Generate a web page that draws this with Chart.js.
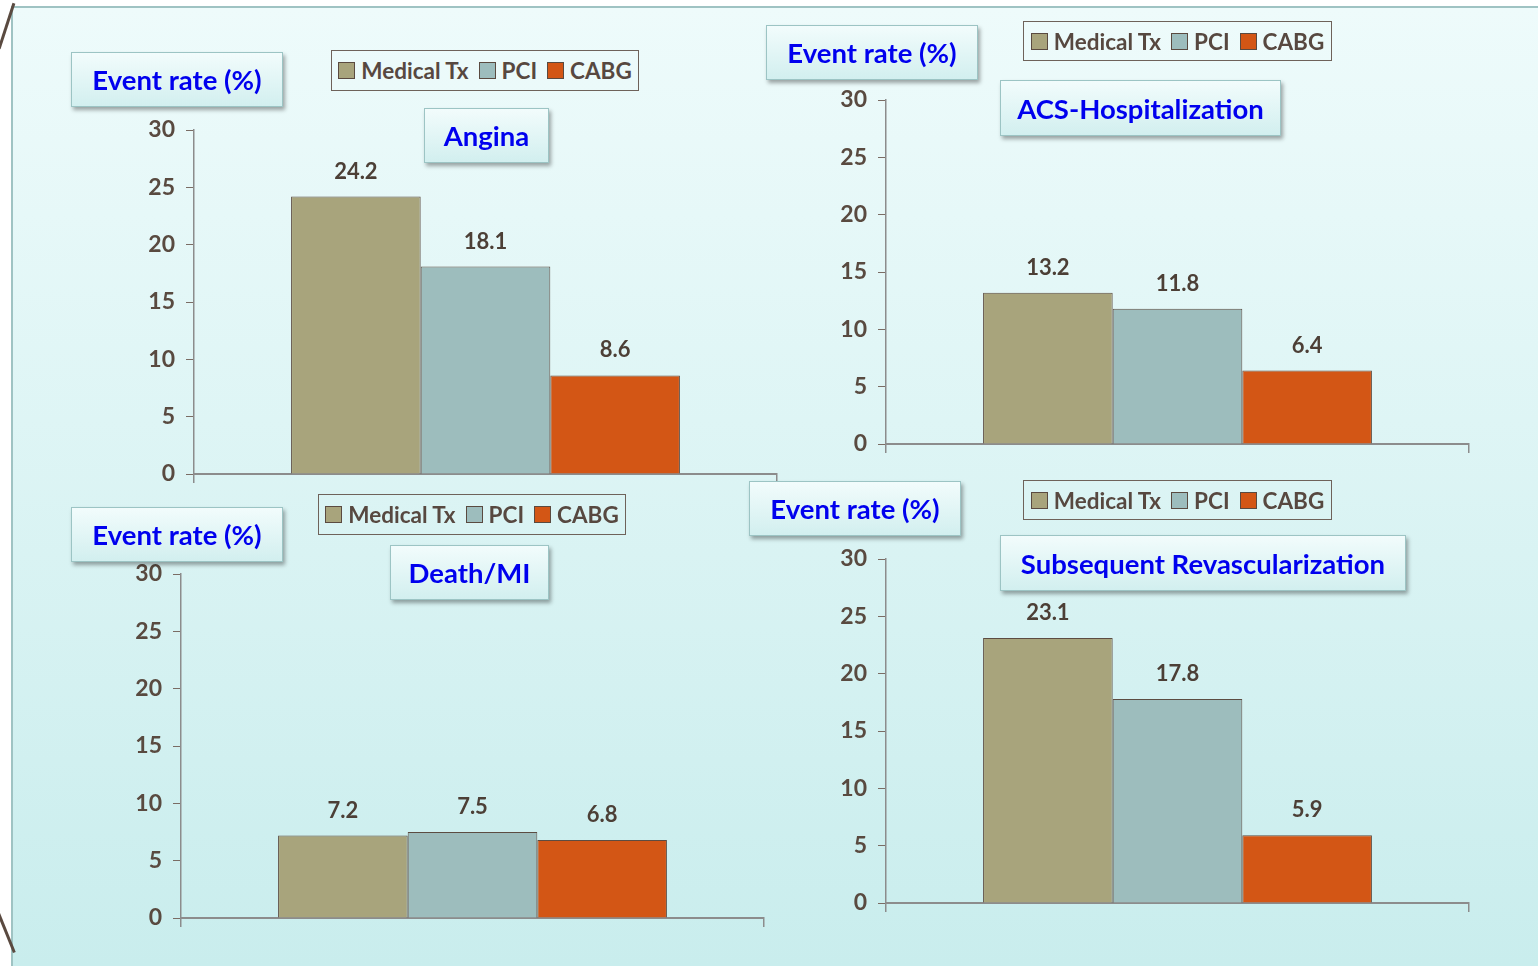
<!DOCTYPE html>
<html lang="en">
<head>
  <meta charset="UTF-8">
  <title>Event rates</title>
  <style>
    html, body { margin: 0; padding: 0; background: #ffffff; }
    body { width: 1538px; height: 966px; position: relative; overflow: hidden; font-family: 'Lato', sans-serif; }

    #panel {
      position: absolute; left: 11px; top: 6px; width: 1540px; height: 958px;
      border: 2px solid #9fc3c3;
      background: linear-gradient(#eefbfb, #c9eded);
    }
    .slash { position: absolute; width: 3px; background: #5a4a40; }

    .chart-wrap { position: absolute; }

    .box {
      position: absolute; box-sizing: border-box;
      border: 1.5px solid #9cc4c4;
      background: linear-gradient(#f2fcfc, #d2efef);
      box-shadow: 2px 3px 4px rgba(0, 0, 0, 0.35);
      color: #0000ee; font-weight: 700; font-size: 27.5px;
      display: flex; align-items: center; justify-content: center;
      white-space: nowrap;
    }

    .legend {
      position: absolute; box-sizing: border-box;
      border: 1px solid #6e625a;
      display: flex; align-items: center; justify-content: center; gap: 10px;
      color: #574840; font-weight: 700; font-size: 22.5px; white-space: nowrap;
    }
    .legend span { display: inline-flex; align-items: center; gap: 6px; }
    .legend i { display: inline-block; width: 15px; height: 15px; border: 1px solid #5a4a40; }
  </style>
</head>
<body>
  <div id="panel"></div>
  <div class="slash" style="left:5px; top:2px; height:48px; transform: rotate(18deg);"></div>
  <div class="slash" style="left:5px; top:912px; height:42px; transform: rotate(-22deg);"></div>

  <script src="https://cdn.jsdelivr.net/npm/chart.js"></script>
  <script>
    // values
    const seriesNames = ['Medical Tx', 'PCI', 'CABG'];
    const seriesColors = ['#a8a47c', '#9dbdbd', '#d35615'];
    const yTicks = [0, 5, 10, 15, 20, 25, 30];

    const angina = [24.2, 18.1, 8.6];
    const acsHosp = [13.2, 11.8, 6.4];
    const deathMI = [7.2, 7.5, 6.8];
    const revasc = [23.1, 17.8, 5.9];

    const panelTitles = ['Angina', 'ACS-Hospitalization', 'Death/MI', 'Subsequent Revascularization'];
    const panelValues = [angina, acsHosp, deathMI, revasc];

    // layout of each panel: y axis x, zero line y, top tick y, axis end x, plus label boxes
    const layout = [
      { ax: 194, y0: 474, y30: 130, end: 777,
        yLabel: [71, 52, 212, 55], title: [424, 108, 125, 55], legend: [331, 50, 308, 41] },
      { ax: 886, y0: 444, y30: 100, end: 1469,
        yLabel: [766, 25, 212, 55], title: [1000, 80, 281, 56], legend: [1023, 21, 309, 40] },
      { ax: 181, y0: 918, y30: 574, end: 764,
        yLabel: [71, 507, 212, 55], title: [390, 545, 159, 55], legend: [318, 494, 308, 41] },
      { ax: 886, y0: 903, y30: 559, end: 1469,
        yLabel: [749, 481, 212, 55], title: [1000, 535, 406, 56], legend: [1023, 480, 309, 40] }
    ];

    Chart.defaults.font.family = 'Lato';
    Chart.defaults.font.weight = 'bold';

    const LEFT = 80, TOP = 30, RIGHT = 10, BOTTOM = 35;

    const valueLabels = {
      id: 'valueLabels',
      afterDatasetsDraw(chart) {
        const ctx = chart.ctx;
        ctx.save();
        ctx.font = 'bold 22px Lato';
        ctx.fillStyle = '#4c3f36';
        ctx.textAlign = 'center';
        ctx.textBaseline = 'bottom';
        chart.data.datasets.forEach((ds, i) => {
          chart.getDatasetMeta(i).data.forEach((bar, j) => {
            ctx.fillText(ds.data[j].toFixed(1), bar.x, bar.y - 14);
          });
        });
        ctx.restore();
      }
    };

    function addBox(cls, r, html) {
      const d = document.createElement('div');
      d.className = cls;
      d.style.left = r[0] + 'px'; d.style.top = r[1] + 'px';
      d.style.width = r[2] + 'px'; d.style.height = r[3] + 'px';
      d.innerHTML = html;
      document.body.appendChild(d);
    }

    layout.forEach((L, k) => {
      const w = L.end - L.ax + LEFT + RIGHT;
      const h = L.y0 - L.y30 + TOP + BOTTOM;
      const wrap = document.createElement('div');
      wrap.className = 'chart-wrap';
      wrap.style.left = (L.ax - LEFT) + 'px';
      wrap.style.top = (L.y30 - TOP) + 'px';
      wrap.style.width = w + 'px';
      wrap.style.height = h + 'px';
      const cv = document.createElement('canvas');
      wrap.appendChild(cv);
      document.body.appendChild(wrap);

      new Chart(cv, {
        type: 'bar',
        data: {
          labels: [panelTitles[k]],
          datasets: seriesNames.map((name, i) => ({
            label: name,
            data: [panelValues[k][i]],
            backgroundColor: seriesColors[i],
            borderColor: '#5c4c42',
            borderWidth: 1,
            categoryPercentage: 0.667,
            barPercentage: 1.0
          }))
        },
        options: {
          responsive: true,
          maintainAspectRatio: false,
          animation: false,
          layout: { padding: { top: TOP, right: RIGHT, left: 0, bottom: 0 } },
          plugins: { legend: { display: false }, tooltip: { enabled: false } },
          scales: {
            x: {
              offset: true,
              grid: { display: true, drawOnChartArea: false, offset: true, tickLength: 9, color: '#8c8c8c', lineWidth: 1.5 },
              border: { color: '#8c8c8c', width: 2 },
              ticks: { display: false },
              afterFit(scale) { scale.height = BOTTOM; }
            },
            y: {
              min: 0, max: 30,
              afterBuildTicks(scale) { scale.ticks = yTicks.map(v => ({ value: v })); },
              grid: { drawOnChartArea: false, tickLength: 8, color: '#7a6c64', lineWidth: 1 },
              border: { color: '#8c8c8c', width: 1.5 },
              ticks: { color: '#594a40', font: { size: 23, weight: 'bold' }, padding: 11 },
              afterFit(scale) {
                scale.width = LEFT;
                scale.paddingTop = 0;
                scale.paddingBottom = 0;
              }
            }
          }
        },
        plugins: [valueLabels]
      });

      addBox('box', L.yLabel, 'Event rate (%)');
      addBox('box', L.title, panelTitles[k]);
      addBox('legend', L.legend, seriesNames.map((n, i) =>
        '<span><i style="background:' + seriesColors[i] + '"></i>' + n + '</span>').join(''));
    });
  </script>
</body>
</html>
